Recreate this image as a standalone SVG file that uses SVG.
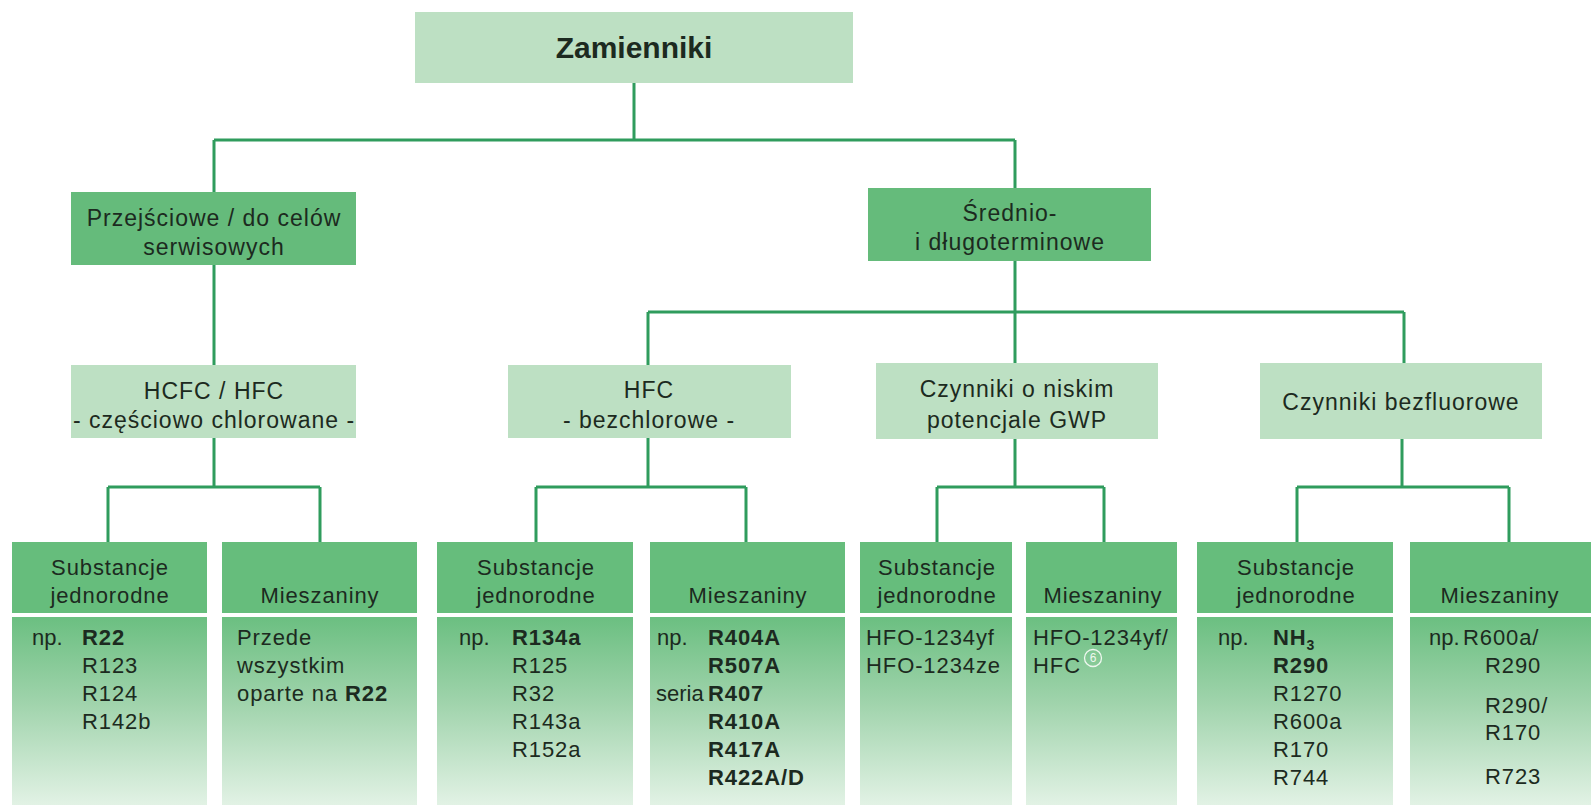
<svg xmlns="http://www.w3.org/2000/svg" width="1591" height="805" viewBox="0 0 1591 805">
<defs>
<linearGradient id="body" x1="0" y1="0" x2="0" y2="1">
<stop offset="0" stop-color="#6bbf81"/>
<stop offset="0.45" stop-color="#9fd3ab"/>
<stop offset="1" stop-color="#e2f2e5"/>
</linearGradient>
<style>
.light{fill:#bde0c3}
.dark{fill:#65bb7b}
.hdr{fill:#66bd7c}
.bd{fill:url(#body)}
.ln{fill:none;stroke:#2f9c5d;stroke-width:3}
text{font-family:"Liberation Sans",Arial,sans-serif;fill:#1c2a20}
.t1{font-size:30px;font-weight:bold;text-anchor:middle}
.t2{font-size:23px;letter-spacing:1px;text-anchor:middle}
.t3{font-size:22px;letter-spacing:0.9px}
.np{letter-spacing:0}
.c{text-anchor:middle}
.b{font-weight:bold}
.circ{fill:none;stroke:#eef7ef;stroke-width:1.3}
.six{font-size:12px;fill:#eef7ef;text-anchor:middle}
</style>
</defs>
<rect width="1591" height="805" fill="#ffffff"/>
<g id="connectors">
<path class="ln" d="M634 83V140M214 140H1015M214 140V192M1015 140V188"/>
<path class="ln" d="M214 265V365M1015 261V363M648 312H1404M648 312V365M1404 312V363"/>
<path class="ln" d="M214 438V487M108 487H320M108 487V542M320 487V542"/>
<path class="ln" d="M648 438V487M536 487H746M536 487V542M746 487V542"/>
<path class="ln" d="M1015 439V487M937 487H1104M937 487V542M1104 487V542"/>
<path class="ln" d="M1402 439V487M1297 487H1509M1297 487V542M1509 487V542"/>
</g>
<g id="root">
<rect class="light" x="415" y="12" width="438" height="71"/>
<text class="t1" x="634" y="58">Zamienniki</text>
</g>
<g id="przejsciowe">
<rect class="dark" x="71" y="192" width="285" height="73"/>
<text class="t2" x="214" y="226">Przejściowe / do celów</text>
<text class="t2" x="214" y="255">serwisowych</text>
</g>
<g id="srednio">
<rect class="dark" x="868" y="188" width="283" height="73"/>
<text class="t2" x="1010" y="221">Średnio-</text>
<text class="t2" x="1010" y="250">i długoterminowe</text>
</g>
<g id="hcfc">
<rect class="light" x="71" y="365" width="285" height="73"/>
<text class="t2" x="214" y="399">HCFC / HFC</text>
<text class="t2" x="214" y="428">- częściowo chlorowane -</text>
</g>
<g id="hfc">
<rect class="light" x="508" y="365" width="283" height="73"/>
<text class="t2" x="649" y="398">HFC</text>
<text class="t2" x="649" y="428">- bezchlorowe -</text>
</g>
<g id="gwp">
<rect class="light" x="876" y="363" width="282" height="76"/>
<text class="t2" x="1017" y="397">Czynniki o niskim</text>
<text class="t2" x="1017" y="428">potencjale GWP</text>
</g>
<g id="bezfluorowe">
<rect class="light" x="1260" y="363" width="282" height="76"/>
<text class="t2" x="1401" y="410">Czynniki bezfluorowe</text>
</g>
<g id="hcfc-jedn">
<rect class="hdr" x="12" y="542" width="195" height="71"/>
<rect class="bd" x="12" y="617" width="195" height="188"/>
<text class="t3 c" x="110" y="575">Substancje</text>
<text class="t3 c" x="110" y="603">jednorodne</text>
<text class="t3 np" x="32" y="645">np.</text>
<text class="t3 b" x="82" y="645">R22</text>
<text class="t3" x="82" y="673">R123</text>
<text class="t3" x="82" y="701">R124</text>
<text class="t3" x="82" y="729">R142b</text>
</g>
<g id="hcfc-miesz">
<rect class="hdr" x="222" y="542" width="195" height="71"/>
<rect class="bd" x="222" y="617" width="195" height="188"/>
<text class="t3 c" x="320" y="603">Mieszaniny</text>
<text class="t3" x="237" y="645">Przede</text>
<text class="t3" x="237" y="673">wszystkim</text>
<text class="t3" x="237" y="701">oparte na <tspan class="b">R22</tspan></text>
</g>
<g id="hfc-jedn">
<rect class="hdr" x="437" y="542" width="196" height="71"/>
<rect class="bd" x="437" y="617" width="196" height="188"/>
<text class="t3 c" x="536" y="575">Substancje</text>
<text class="t3 c" x="536" y="603">jednorodne</text>
<text class="t3 np" x="459" y="645">np.</text>
<text class="t3 b" x="512" y="645">R134a</text>
<text class="t3" x="512" y="673">R125</text>
<text class="t3" x="512" y="701">R32</text>
<text class="t3" x="512" y="729">R143a</text>
<text class="t3" x="512" y="757">R152a</text>
</g>
<g id="hfc-miesz">
<rect class="hdr" x="650" y="542" width="195" height="71"/>
<rect class="bd" x="650" y="617" width="195" height="188"/>
<text class="t3 c" x="748" y="603">Mieszaniny</text>
<text class="t3 np" x="657" y="645">np.</text>
<text class="t3 b" x="708" y="645">R404A</text>
<text class="t3 b" x="708" y="673">R507A</text>
<text class="t3 np" x="656" y="701" font-size="20.5">seria</text>
<text class="t3 b" x="708" y="701">R407</text>
<text class="t3 b" x="708" y="729">R410A</text>
<text class="t3 b" x="708" y="757">R417A</text>
<text class="t3 b" x="708" y="785">R422A/D</text>
</g>
<g id="gwp-jedn">
<rect class="hdr" x="860" y="542" width="152" height="71"/>
<rect class="bd" x="860" y="617" width="152" height="188"/>
<text class="t3 c" x="937" y="575">Substancje</text>
<text class="t3 c" x="937" y="603">jednorodne</text>
<text class="t3" x="866" y="645">HFO-1234yf</text>
<text class="t3" x="866" y="673">HFO-1234ze</text>
</g>
<g id="gwp-miesz">
<rect class="hdr" x="1026" y="542" width="151" height="71"/>
<rect class="bd" x="1026" y="617" width="151" height="188"/>
<text class="t3 c" x="1103" y="603">Mieszaniny</text>
<text class="t3" x="1033" y="645">HFO-1234yf/</text>
<text class="t3" x="1033" y="673">HFC</text>
<circle class="circ" cx="1093" cy="658" r="8.5"/>
<text class="six" x="1093" y="662">6</text>
</g>
<g id="bezf-jedn">
<rect class="hdr" x="1197" y="542" width="196" height="71"/>
<rect class="bd" x="1197" y="617" width="196" height="188"/>
<text class="t3 c" x="1296" y="575">Substancje</text>
<text class="t3 c" x="1296" y="603">jednorodne</text>
<text class="t3 np" x="1218" y="645">np.</text>
<text class="t3 b" x="1273" y="645">NH<tspan font-size="14" dy="5">3</tspan></text>
<text class="t3 b" x="1273" y="673">R290</text>
<text class="t3" x="1273" y="701">R1270</text>
<text class="t3" x="1273" y="729">R600a</text>
<text class="t3" x="1273" y="757">R170</text>
<text class="t3" x="1273" y="785">R744</text>
</g>
<g id="bezf-miesz">
<rect class="hdr" x="1410" y="542" width="181" height="71"/>
<rect class="bd" x="1410" y="617" width="181" height="188"/>
<text class="t3 c" x="1500" y="603">Mieszaniny</text>
<text class="t3 np" x="1429" y="645">np.</text>
<text class="t3" x="1463" y="645">R600a/</text>
<text class="t3" x="1485" y="673">R290</text>
<text class="t3" x="1485" y="713">R290/</text>
<text class="t3" x="1485" y="740">R170</text>
<text class="t3" x="1485" y="784">R723</text>
</g>
</svg>
